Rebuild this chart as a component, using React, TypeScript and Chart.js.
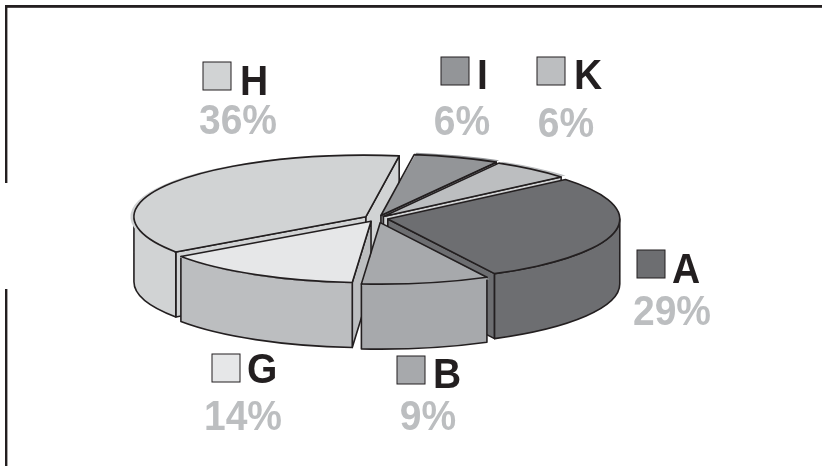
import React, { useEffect, useRef } from "react";
import { Chart, registerables } from "chart.js";

Chart.register(...registerables);

const categories = ["A", "B", "G", "H", "I", "K"];
// printed percentages
const percentLabels = ["29%", "9%", "14%", "36%", "6%", "6%"];
// slice sizes as measured on the drawn pie
const sliceShares = [28.5, 8.9, 14, 37, 6, 5.6];
const topColors = ["#6d6e71", "#a7a9ac", "#e6e7e8", "#d1d3d4", "#939598", "#bcbec0"];
const wallColors = ["#6d6e71", "#a7a9ac", "#bcbec0", "#d1d3d4", "#939598", "#d1d3d4"];
const sliceOffsets = [44, 64, 48, 52, 48, 40];
const drawOrder = [3, 4, 5, 0, 2, 1];

const SQUASH = 0.265;
const DEPTH = 65;
const INK = "#231f20";
const LABEL_GREY = "#bcbec0";
const TEXT_STRETCH = 1.1;

// swatch left/top, letter left/baseline, percent centre/baseline
const labelLayout = [
  { sx: 637, sy: 250, lx: 672, ly: 283, px: 672, py: 325 },
  { sx: 397, sy: 356, lx: 433, ly: 388, px: 428, py: 430 },
  { sx: 212, sy: 354, lx: 247, ly: 383, px: 243, py: 430 },
  { sx: 203, sy: 62, lx: 240, ly: 95, px: 238, py: 134 },
  { sx: 441, sy: 57, lx: 477, ly: 89, px: 462, py: 135 },
  { sx: 537, sy: 57, lx: 574, ly: 89, px: 566, py: 137 },
];

function stretchedText(ctx: CanvasRenderingContext2D, text: string, x: number, y: number) {
  ctx.save();
  ctx.translate(x, y);
  ctx.scale(1, TEXT_STRETCH);
  ctx.fillText(text, 0, 0);
  ctx.restore();
}

const pie3d = {
  id: "pie3d",
  beforeDraw(chart: any) {
    const { ctx, width, height } = chart;
    ctx.save();
    ctx.fillStyle = "#ffffff";
    ctx.fillRect(0, 0, width, height);
    ctx.fillStyle = INK;
    ctx.fillRect(5, 5, width - 5, 2.8);
    ctx.fillRect(5, 5, 2.4, 178);
    ctx.fillRect(5, 289, 2.4, height - 289);
    ctx.restore();
  },
  beforeDatasetsDraw(chart: any) {
    const { ctx } = chart;
    const arcs = chart.getDatasetMeta(0).data;
    ctx.save();
    ctx.lineJoin = "round";
    ctx.lineWidth = 1.6;
    ctx.strokeStyle = INK;
    for (const i of drawOrder) {
      const el = arcs[i];
      const s = el.startAngle;
      const e = el.endAngle;
      const r = el.outerRadius;
      const mid = (s + e) / 2;
      const off = (el.options.offset || 0) / 4;
      const cy0 = el.y;
      const ax = el.x + Math.cos(mid) * off;
      const ay = cy0 + Math.sin(mid) * off * SQUASH;
      const ry = r * SQUASH;
      const pt = (a: number): [number, number] => [ax + Math.cos(a) * r, ay + Math.sin(a) * ry];
      const wall = (a: number) => {
        const [px, py] = pt(a);
        ctx.beginPath();
        ctx.moveTo(ax, ay);
        ctx.lineTo(px, py);
        ctx.lineTo(px, py + DEPTH);
        ctx.lineTo(ax, ay + DEPTH);
        ctx.closePath();
        ctx.fillStyle = wallColors[i];
        ctx.fill();
        ctx.stroke();
      };
      if (Math.cos(s) < 0) wall(s);
      if (Math.cos(e) > 0) wall(e);
      for (const shift of [0, -2 * Math.PI]) {
        const a0 = Math.max(s + shift, 0);
        const a1 = Math.min(e + shift, Math.PI);
        if (a1 <= a0) continue;
        const [x0, y0] = pt(a0);
        const [x1, y1] = pt(a1);
        ctx.beginPath();
        ctx.moveTo(x0, y0);
        ctx.ellipse(ax, ay, r, ry, 0, a0, a1);
        ctx.lineTo(x1, y1 + DEPTH);
        ctx.ellipse(ax, ay + DEPTH, r, ry, 0, a1, a0, true);
        ctx.closePath();
        ctx.fillStyle = wallColors[i];
        ctx.fill();
        ctx.stroke();
      }
      ctx.save();
      ctx.translate(0, cy0);
      ctx.scale(1, SQUASH);
      ctx.translate(0, -cy0);
      el.draw(ctx);
      ctx.restore();
      ctx.beginPath();
      ctx.moveTo(ax, ay);
      ctx.ellipse(ax, ay, r, ry, 0, s, e);
      ctx.closePath();
      ctx.stroke();
    }
    ctx.restore();
    return false;
  },
  afterDraw(chart: any) {
    const { ctx } = chart;
    ctx.save();
    ctx.textBaseline = "alphabetic";
    ctx.font = 'bold 39px "Liberation Sans"';
    categories.forEach((name, i) => {
      const p = labelLayout[i];
      ctx.fillStyle = topColors[i];
      ctx.fillRect(p.sx, p.sy, 28, 28);
      ctx.strokeStyle = INK;
      ctx.lineWidth = 1;
      ctx.strokeRect(p.sx, p.sy, 28, 28);
      ctx.fillStyle = INK;
      ctx.textAlign = "left";
      stretchedText(ctx, name, p.lx, p.ly);
      ctx.fillStyle = LABEL_GREY;
      ctx.textAlign = "center";
      stretchedText(ctx, percentLabels[i], p.px, p.py);
    });
    ctx.restore();
  },
};

export default function App() {
  const ref = useRef<HTMLCanvasElement>(null);
  useEffect(() => {
    const chart = new Chart(ref.current as HTMLCanvasElement, {
      type: "pie",
      data: {
        labels: categories,
        datasets: [
          {
            data: sliceShares,
            backgroundColor: topColors,
            borderWidth: 0,
            offset: sliceOffsets,
          },
        ],
      },
      options: {
        responsive: false,
        animation: false,
        radius: 232,
        rotation: 50,
        layout: { padding: { right: 68, bottom: 29 } },
        plugins: { legend: { display: false }, tooltip: { enabled: false } },
      },
      plugins: [pie3d],
    } as any);
    return () => chart.destroy();
  }, []);
  return (
    <div style={{ position: "fixed", left: 0, top: 0, width: 822, height: 466 }}>
      <canvas ref={ref} width={822} height={466} style={{ display: "block" }} />
    </div>
  );
}
